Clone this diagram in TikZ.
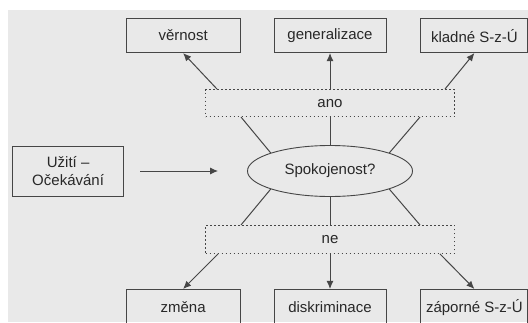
\documentclass[tikz,border=0pt]{standalone}
\usepackage{fontspec}
\setmainfont{Liberation Sans}
\usetikzlibrary{positioning,arrows.meta,shapes.geometric}
\definecolor{fondo}{RGB}{233,233,233}
\definecolor{trazo}{RGB}{70,70,70}
\definecolor{texto}{RGB}{40,40,40}

\begin{document}
\begin{tikzpicture}[x=1pt, y=-1pt,
    caja/.style={draw=trazo, line width=0.9pt, minimum width=112pt, minimum height=34pt,
                 inner sep=0pt, align=center, text=texto, font=\fontsize{15}{18}\selectfont},
    punteado/.style={draw=trazo, line width=1pt, dash pattern=on 1.2pt off 2.8pt,
                 minimum width=249pt, inner sep=0pt, text=texto, font=\fontsize{15}{18}\selectfont},
    elipse/.style={ellipse, draw=trazo, line width=0.9pt, minimum width=165pt,
                 minimum height=51pt, inner sep=0pt, text=texto, font=\fontsize{15}{18}\selectfont},
    enlace/.style={line width=1pt, color=trazo},
    flecha/.style={-{Latex[length=8pt,width=7pt]}, line width=1pt, color=trazo}]
  \useasboundingbox (0,0) rectangle (528,322);
  \fill[fondo] (8,10) rectangle (528,322);
  \node[elipse] (sp) at (330,171) {Spokojenost?};
  \node[caja, minimum width=111pt, minimum height=50pt, left=123pt of sp] (uz) {Užití –\\Očekávání};
  \node[punteado, minimum height=27pt, above=28pt of sp] (ano) {ano};
  \node[punteado, minimum height=28pt, below=28pt of sp] (ne) {ne};
  \node[caja, above=36pt of ano] (gen) {generalizace};
  \node[caja, minimum width=114pt, left=33pt of gen] (vernost) {věrnost};
  \node[caja, minimum width=107pt, right=34pt of gen] (kladne) {kladné S-z-Ú};
  \node[caja, minimum height=36pt, below=35pt of ne] (disk) {diskriminace};
  \node[caja, minimum width=114pt, minimum height=36pt, left=33pt of disk] (zmena) {změna};
  \node[caja, minimum width=107pt, minimum height=36pt, right=34pt of disk] (zaporne) {záporné S-z-Ú};
  \draw[flecha, shorten <=16pt, shorten >=29pt] (uz) -- (sp);
  \draw[flecha] ([xshift=12pt]ano.north west) -- (vernost.south);
  \draw[flecha] (ano) -- (gen);
  \draw[flecha] ([xshift=-10pt]ano.north east) -- (kladne.south);
  \draw[enlace] ([xshift=36pt]ano.south west) -- (sp.163);
  \draw[enlace] (ano) -- (sp);
  \draw[enlace] ([xshift=-35pt]ano.south east) -- (sp.17);
  \draw[enlace] (sp.197) -- ([xshift=36pt]ne.north west);
  \draw[enlace] (sp) -- (ne);
  \draw[enlace] (sp.343) -- ([xshift=-35pt]ne.north east);
  \draw[flecha] ([xshift=13pt]ne.south west) -- (zmena.north);
  \draw[flecha] (ne) -- (disk);
  \draw[flecha] ([xshift=-15pt]ne.south east) -- (zaporne.north);
\end{tikzpicture}
\end{document}
